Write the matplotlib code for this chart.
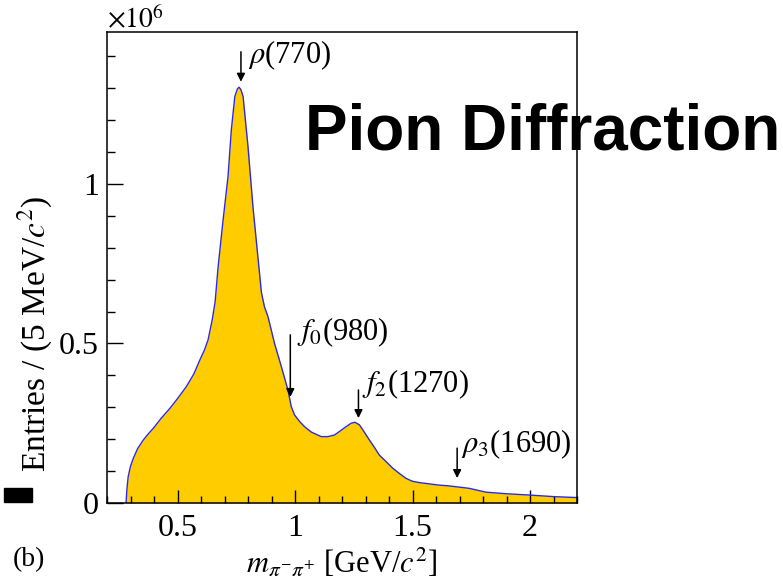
import matplotlib
matplotlib.use("Agg")
import matplotlib.pyplot as plt
from matplotlib.patches import Rectangle
from matplotlib.ticker import MultipleLocator, FuncFormatter

# pi- pi+ invariant mass spectrum, entries in units of 1e6 per 5 MeV/c^2
mass = [0.281, 0.285, 0.290, 0.300, 0.312, 0.330, 0.354, 0.375, 0.397, 0.430,
        0.468, 0.500, 0.538, 0.570, 0.595, 0.615, 0.630, 0.648, 0.660, 0.673,
        0.694, 0.715, 0.729, 0.744, 0.755, 0.762, 0.770, 0.779, 0.800, 0.821,
        0.842, 0.857, 0.870, 0.885, 0.913, 0.942, 0.970, 0.984, 0.998, 1.020,
        1.041, 1.070, 1.112, 1.140, 1.168, 1.189, 1.215, 1.239, 1.255, 1.274,
        1.295, 1.317, 1.340, 1.359, 1.390, 1.416, 1.445, 1.473, 1.500, 1.529,
        1.570, 1.614, 1.650, 1.685, 1.741, 1.812, 1.900, 1.996, 2.100, 2.200]
entries = [0.000, 0.045, 0.082, 0.115, 0.140, 0.170, 0.197, 0.216, 0.234, 0.265,
           0.297, 0.327, 0.365, 0.405, 0.448, 0.480, 0.511, 0.575, 0.630, 0.741,
           0.887, 1.023, 1.169, 1.274, 1.298, 1.303, 1.295, 1.274, 1.117, 0.929,
           0.772, 0.660, 0.615, 0.584, 0.500, 0.427, 0.354, 0.302, 0.276, 0.255,
           0.239, 0.222, 0.208, 0.208, 0.213, 0.224, 0.238, 0.250, 0.253, 0.245,
           0.222, 0.197, 0.172, 0.150, 0.128, 0.109, 0.092, 0.077, 0.068, 0.064,
           0.060, 0.056, 0.054, 0.051, 0.046, 0.034, 0.029, 0.025, 0.020, 0.017]

# resonance labels: name, nominal mass, arrow top, arrow tip, text baseline
res_labels = [r"$\rho$(770)", r"$f_0$(980)", r"$f_2$(1270)", r"$\rho_3$(1690)"]
res_mass = [0.77, 0.98, 1.27, 1.69]
arrow_top = [1.414, 0.527, 0.354, 0.172]
arrow_tip = [1.320, 0.332, 0.266, 0.078]
text_x = [0.799, 1.007, 1.287, 1.707]
text_y = [1.379, 0.511, 0.348, 0.160]

plt.rcParams["font.family"] = ["Liberation Serif", "DejaVu Serif"]
plt.rcParams["mathtext.fontset"] = "stix"

W, H = 783, 587
fig = plt.figure(figsize=(W / 100, H / 100), dpi=100)
ax = fig.add_axes([107 / W, 1 - 503 / H, 470 / W, 471 / H])

ax.fill_between(mass, entries, 0, color="#ffcc00", lw=0)
ax.plot(mass, entries, color="#2a2ae0", lw=1.0)

ax.set_xlim(0.2, 2.2)
ax.set_ylim(0, 1.476)

ax.xaxis.set_major_locator(MultipleLocator(0.5))
ax.xaxis.set_minor_locator(MultipleLocator(0.1))
ax.yaxis.set_major_locator(MultipleLocator(0.5))
ax.yaxis.set_minor_locator(MultipleLocator(0.1))
fmt = FuncFormatter(lambda v, p: "%g" % v)
ax.xaxis.set_major_formatter(fmt)
ax.yaxis.set_major_formatter(fmt)

ax.tick_params(axis="both", which="both", direction="in", labelsize=23,
               top=False, right=False, width=1.0, colors="black")
ax.tick_params(axis="x", which="major", length=9.5, pad=8)
ax.tick_params(axis="x", which="minor", length=5)
ax.tick_params(axis="y", which="major", length=11.5, pad=6)
ax.tick_params(axis="y", which="minor", length=6)
for sp in ax.spines.values():
    sp.set_linewidth(1.1)

for lab, m, y0, y1, tx, ty in zip(res_labels, res_mass, arrow_top, arrow_tip, text_x, text_y):
    ax.annotate("", xy=(m, y1), xytext=(m, y0),
                arrowprops=dict(arrowstyle="-|>", color="black", lw=1.1,
                                mutation_scale=12, shrinkA=0, shrinkB=0))
    ax.text(tx, ty, lab, fontsize=22, ha="left", va="baseline")

fig.text(107 / W, 1 - 28 / H, r"$\times 10^{6}$", fontsize=20, ha="left", va="baseline")
fig.text(35 / W, 1 - 334 / H, r"Entries / (5 MeV/$c^{2}$)", fontsize=24,
         rotation=90, ha="center", va="center")
fig.text(342 / W, 1 - 572 / H, r"$m_{\pi^{-}\pi^{+}}$ [GeV/$c^{2}$]", fontsize=22,
         ha="center", va="baseline")
fig.text(13 / W, 1 - 566 / H, "(b)", fontsize=20, ha="left", va="baseline")

fig.text(305 / W, 1 - 150 / H, "Pion Diffraction", fontsize=46, fontweight="bold",
         family=["Liberation Sans", "DejaVu Sans"], ha="left", va="baseline")

fig.patches.append(Rectangle((4 / W, 1 - 502 / H), 28 / W, 14 / H,
                             transform=fig.transFigure, color="black"))

fig.savefig("out.png", dpi=100)
